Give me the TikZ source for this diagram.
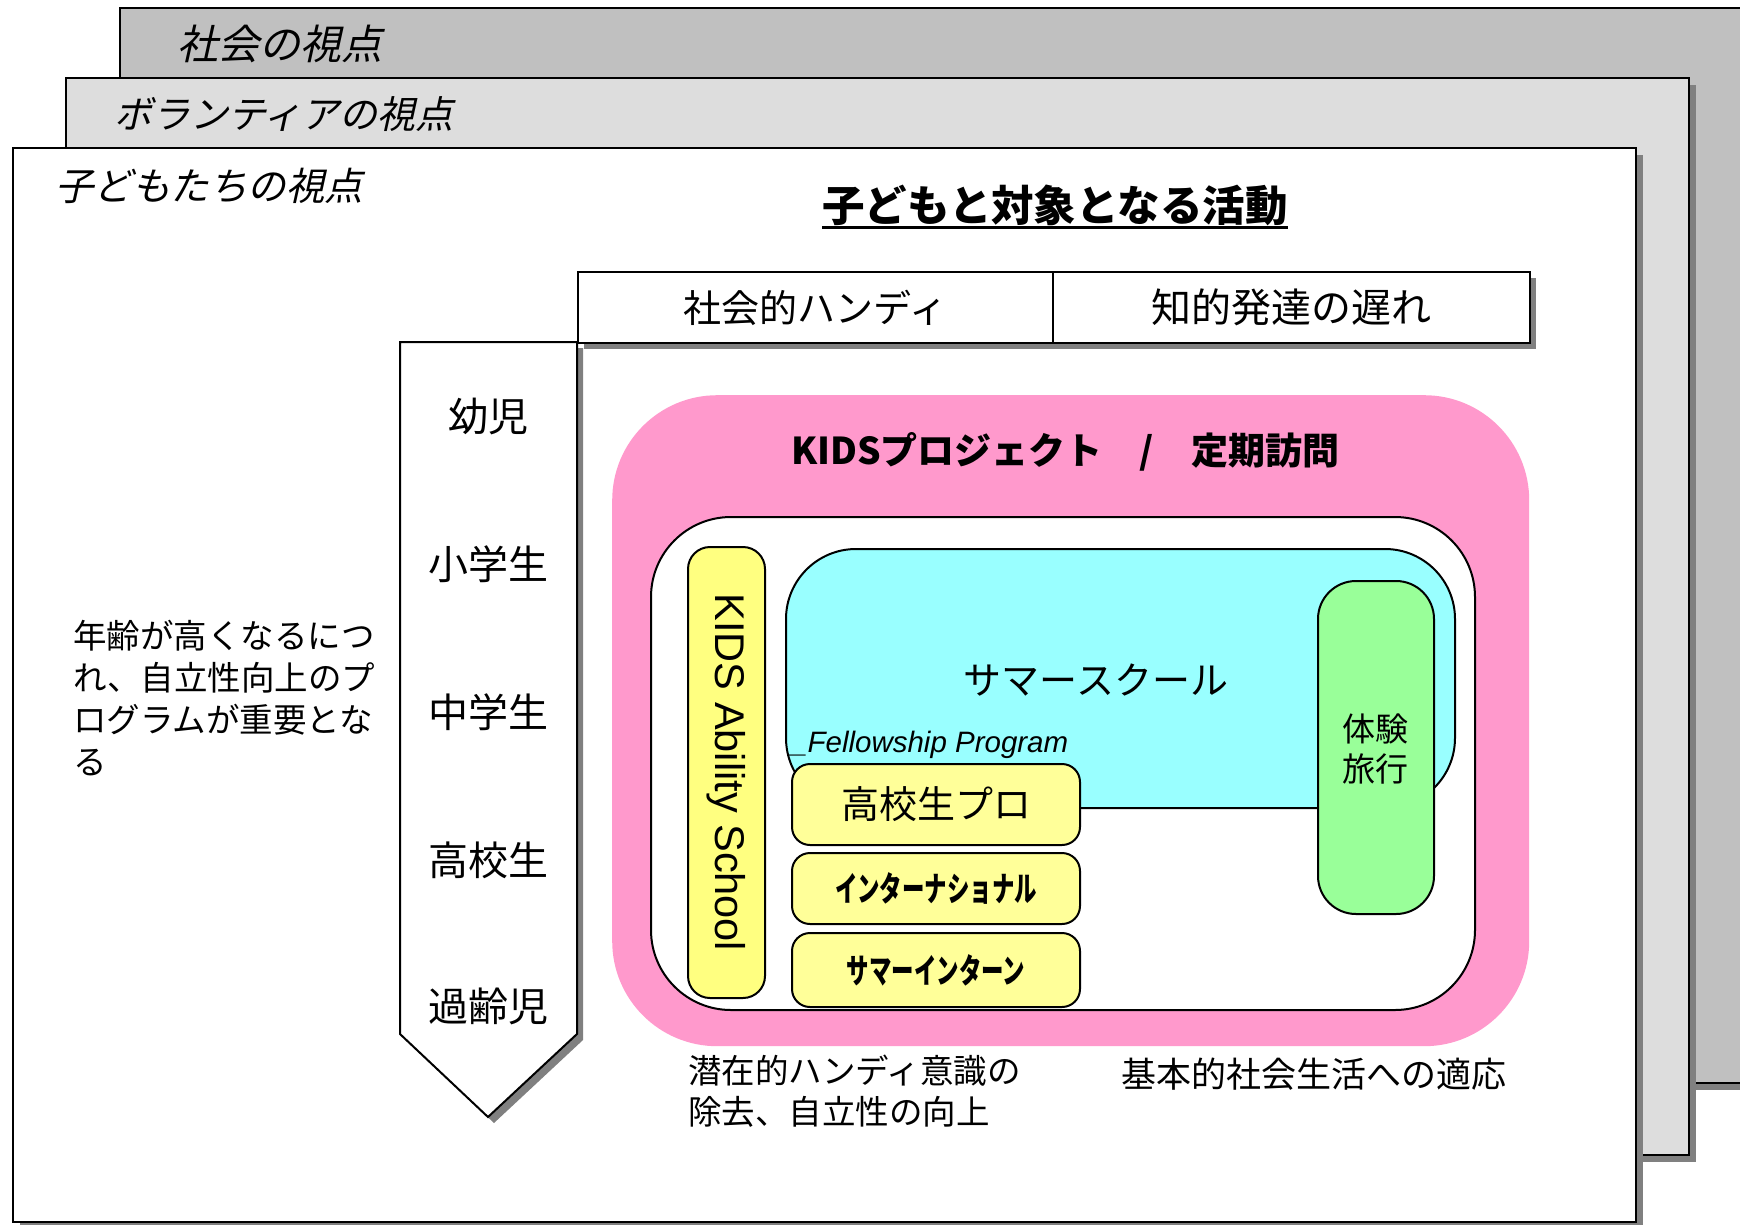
\documentclass[tikz,border=0pt]{standalone}
\usepackage{fontspec}
\setmainfont{Noto Sans CJK JP}
\newfontfamily\jpit{Noto Sans CJK JP}[FakeSlant=0.22]
\newfontfamily\jpcond{Noto Sans CJK JP}[FakeStretch=0.66]
\newfontfamily\latsans{Liberation Sans}
\usetikzlibrary{shadows}
\definecolor{bggray}{HTML}{C0C0C0}
\definecolor{midgray}{HTML}{DDDDDD}
\definecolor{shgray}{HTML}{808080}
\definecolor{pinkc}{HTML}{FF99CC}
\definecolor{cyanc}{HTML}{99FFFF}
\definecolor{yelc}{HTML}{FFFF80}
\definecolor{yelc2}{HTML}{FFFF99}
\definecolor{greenc}{HTML}{99FF99}
\tikzset{
  shd/.style={drop shadow={shadow xshift=7pt, shadow yshift=-7pt, fill=shgray, opacity=1}},
  pagebox/.style={draw=black, line width=2pt, anchor=north west, inner sep=0pt},
  plabel/.style={anchor=west, inner sep=0pt, font=\jpit\fontsize{38}{44}\selectfont},
  hdrcell/.style={draw=black, line width=2pt, fill=white, anchor=north west, inner sep=0pt},
  agelbl/.style={inner sep=0pt, font=\fontsize{40}{48}\selectfont},
  rbox/.style={draw=black, line width=2pt, anchor=north west, inner sep=0pt},
  txt/.style={inner sep=0pt},
}
\begin{document}
\begin{tikzpicture}[x=1pt,y=-1pt]
\useasboundingbox (0,0) rectangle (1740,1224);
\clip (0,0) rectangle (1740,1224);
% stacked pages
\node[pagebox, fill=bggray, shd, minimum width=1700, minimum height=1075] (social) at (119,7) {};
\node[plabel, font=\jpit\fontsize{41}{48}\selectfont] (lsocial) at (177,44) {社会の視点};
\node[pagebox, fill=midgray, shd, minimum width=1623, minimum height=1077] (vol) at (65,77) {};
\node[plabel] (lvol) at (114,114) {ボランティアの視点};
\node[pagebox, fill=white, shd, minimum width=1623, minimum height=1074] (kid) at (12,147) {};
\node[plabel, font=\jpit\fontsize{38.5}{44}\selectfont] (lkid) at (55,186) {子どもたちの視点};
% title
\node[txt, font=\bfseries\fontsize{42.5}{50}\selectfont] (title) at (1055,205) {子どもと対象となる活動};
\draw[line width=3pt] ([yshift=-6pt]title.base west) -- ([yshift=-6pt]title.base east);
% header
\fill[shgray] (584,278) rectangle (1536,349);
\node[hdrcell, minimum width=475, minimum height=71, font=\fontsize{38}{46}\selectfont] (h1) at (577,271) {社会的ハンディ};
\node[hdrcell, minimum width=477, minimum height=71, font=\fontsize{40}{46}\selectfont] (h2) at (1052,271) {知的発達の遅れ};
% age arrow
\fill[shgray, shift={(6,6)}] (400,342) -- (577,342) -- (577,1034) -- (488,1117) -- (400,1034) -- cycle;
\filldraw[fill=white, draw=black, line width=2pt] (400,342) -- (577,342) -- (577,1034) -- (488,1117) -- (400,1034) -- cycle;
\node[agelbl] (a1) at (488,416) {幼児};
\node[agelbl] (a2) at (488,564) {小学生};
\node[agelbl] (a3) at (488,712) {中学生};
\node[agelbl] (a4) at (488,860) {高校生};
\node[agelbl] (a5) at (488,1006) {過齢児};
% left note
\node[txt, anchor=north west, align=left, font=\fontsize{33.5}{42}\selectfont] (note) at (73,620) {年齢が高くなるにつ\\れ、自立性向上のプ\\ログラムが重要とな\\る};
% pink KIDS project
\node[anchor=north west, inner sep=0pt, fill=pinkc, rounded corners=105pt, minimum width=917, minimum height=651] (kids) at (612,395) {};
\node[txt, font=\bfseries\fontsize{37}{44}\selectfont] (kidst) at (1065,452) {KIDSプロジェクト　/　定期訪問};
\node[rbox, fill=white, rounded corners=80pt, minimum width=824, minimum height=493] (inner) at (650,516) {};
% KIDS Ability School
\node[rbox, fill=yelc, rounded corners=22pt, minimum width=77, minimum height=451] (kas) at (687,546) {};
\node[txt, rotate=-90, font=\latsans\fontsize{41.5}{46}\selectfont] (kast) at (kas.center) {KIDS Ability School};
% summer school
\node[rbox, fill=cyanc, rounded corners=70pt, minimum width=669, minimum height=259] (ss) at (785,548) {};
\node[txt, font=\fontsize{38}{44}\selectfont] (sst) at (1096,680) {サマースクール};
\node[txt, anchor=west, font=\latsans\itshape\fontsize{29.5}{34}\selectfont] (fp) at (791,745) {\_Fellowship Program};
% yellow program boxes
\node[rbox, fill=yelc2, rounded corners=18pt, minimum width=288, minimum height=81, font=\fontsize{38}{44}\selectfont] (hs) at (791,763) {高校生プロ};
\node[rbox, fill=yelc2, rounded corners=18pt, minimum width=288, minimum height=71, font=\jpcond\bfseries\fontsize{34}{40}\selectfont] (intl) at (791,852) {インターナショナル};
\node[rbox, fill=yelc2, rounded corners=18pt, minimum width=288, minimum height=74, font=\jpcond\bfseries\fontsize{34}{40}\selectfont] (si) at (791,932) {サマーインターン};
% green trip
\node[rbox, fill=greenc, rounded corners=38pt, minimum width=116, minimum height=333] (trip) at (1317,580) {};
\node[txt, align=center, font=\fontsize{33}{40}\selectfont] (tript) at (1375,749) {体験\\旅行};
% bottom notes
\node[txt, anchor=north west, align=left, font=\fontsize{33.5}{41}\selectfont] (bn1) at (688,1055) {潜在的ハンディ意識の\\除去、自立性の向上};
\node[txt, anchor=west, font=\fontsize{35}{41}\selectfont] (bn2) at (1121,1074) {基本的社会生活への適応};
\end{tikzpicture}
\end{document}
